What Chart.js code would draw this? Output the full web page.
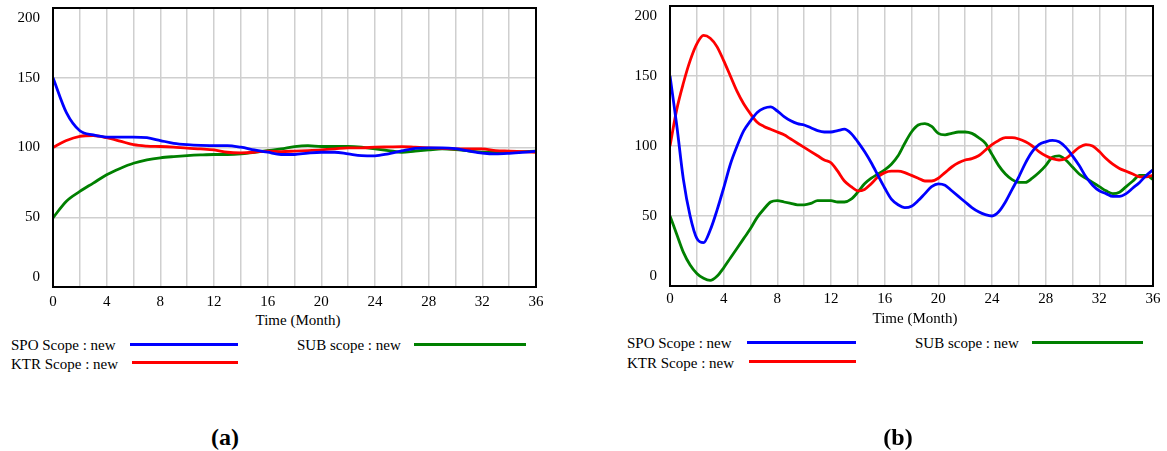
<!DOCTYPE html>
<html>
<head>
<meta charset="utf-8">
<script src="https://cdn.jsdelivr.net/npm/chart.js@4.4.0/dist/chart.umd.min.js"></script>
<style>
    body { margin: 0; background: #fff; }
    #page { position: relative; width: 1167px; height: 451px; overflow: hidden; font-family: 'Liberation Serif', 'Times New Roman', serif; color: #000; }
    canvas { position: absolute; top: 0; }
    .txt { position: absolute; font-size: 15px; line-height: 18px; white-space: nowrap; }
    .ctr { transform: translateX(-50%); }
    .key { position: absolute; height: 3px; }
    .panel { position: absolute; font-size: 24px; line-height: 28px; font-weight: bold; transform: translateX(-50%); }
</style>
</head>
<body>
<div id="page">
    <canvas id="chartA" width="580" height="310" style="left:0px"></canvas>
    <canvas id="chartB" width="567" height="310" style="left:600px"></canvas>

    <div class="txt ctr" style="left:298px; top:311px">Time (Month)</div>
    <div class="txt" style="left:11px; top:336px">SPO Scope : new</div>
    <div class="key" style="left:130px; width:108px; top:343px; background:#0000ff"></div>
    <div class="txt" style="left:11px; top:355px">KTR Scope : new</div>
    <div class="key" style="left:132px; width:106px; top:361px; background:#ff0000"></div>
    <div class="txt" style="left:297px; top:336px">SUB scope : new</div>
    <div class="key" style="left:414px; width:112px; top:343px; background:#008000"></div>
    <div class="panel" style="left:225px; top:423px">(a)</div>

    <div class="txt ctr" style="left:915px; top:309px">Time (Month)</div>
    <div class="txt" style="left:627px; top:334px">SPO Scope : new</div>
    <div class="key" style="left:747px; width:109px; top:341px; background:#0000ff"></div>
    <div class="txt" style="left:627px; top:354px">KTR Scope : new</div>
    <div class="key" style="left:749px; width:107px; top:360px; background:#ff0000"></div>
    <div class="txt" style="left:915px; top:334px">SUB scope : new</div>
    <div class="key" style="left:1032px; width:111px; top:341px; background:#008000"></div>
    <div class="panel" style="left:898px; top:423px">(b)</div>
</div>

<script>
// Scope simulation runs

// Panel (a): monthly points
const monthsA = [0, 1, 2, 3, 4, 5, 6, 7, 8, 9, 10, 11, 12, 13, 14, 15, 16, 17, 18,
    19, 20, 21, 22, 23, 24, 25, 26, 27, 28, 29, 30, 31, 32, 33, 34, 35, 36];
const spoA = [150, 125, 112, 109, 107.5, 107.5, 107.5, 107, 105, 103, 102, 101.5, 101.4,
    101.4, 100.2, 98.3, 96.6, 95, 95, 96, 96.6, 96.6, 95.4, 94.2, 94, 95.5, 97.5, 99.3,
    99.8, 99.8, 99.2, 97.5, 96, 95.4, 95.8, 96.5, 97.4];
const ktrA = [100, 105, 108, 108.6, 107, 104.6, 102, 101, 100.7, 100.2, 99.5, 99, 98.3,
    96.6, 96.2, 96.6, 97.4, 97.1, 97.4, 97.8, 98.3, 99, 99.8, 99.8, 100.2, 100.4, 100.6,
    100.2, 99.8, 99.4, 99, 99, 99, 97.8, 97.4, 97, 96.6];
const subA = [49.6, 61.5, 68.5, 74.5, 80.5, 85, 88.7, 91.1, 92.6, 93.5, 94.2, 94.7, 95,
    95, 95.4, 96.6, 97.8, 99, 100.7, 101.4, 100.7, 100.7, 100.7, 100.2, 99, 97.8, 96.6,
    97.5, 98.3, 99, 98.5, 97.5, 96.6, 96.6, 96.6, 97, 97.4];

// Panel (b): half-month points
const monthsB = [0, 0.5, 1, 1.5, 2, 2.5, 3, 3.5, 4, 4.5, 5, 5.5, 6, 6.5, 7, 7.5, 8, 8.5,
    9, 9.5, 10, 10.5, 11, 11.5, 12, 12.5, 13, 13.5, 14, 14.5, 15, 15.5, 16, 16.5, 17, 17.5,
    18, 18.5, 19, 19.5, 20, 20.5, 21, 21.5, 22, 22.5, 23, 23.5, 24, 24.5, 25, 25.5, 26, 26.5,
    27, 27.5, 28, 28.5, 29, 29.5, 30, 30.5, 31, 31.5, 32, 32.5, 33, 33.5, 34, 34.5, 35, 35.5, 36];
const spoB = [150, 115, 76, 50, 34, 31, 40, 54, 70, 87,
    100, 111, 118, 124, 127, 128, 125, 121, 118, 116,
    115, 113, 111, 110, 110, 111, 112, 109, 103, 96,
    88, 79, 70, 62, 58, 56, 57, 61, 66, 71,
    73, 72, 68, 64, 60, 56, 53, 51, 50, 53,
    60, 69, 78, 88, 96, 101, 103, 104, 103, 99,
    93, 86, 78, 72, 68, 66, 64, 64, 66, 70,
    74, 79, 83];
const ktrB = [100, 126, 145, 161, 173, 179, 177, 171, 161, 150,
    139, 130, 123, 117, 114, 112, 110, 108, 105, 102,
    99, 96, 93, 90, 88, 82, 75, 71, 68, 69,
    73, 78, 81, 82, 82, 81, 79, 77, 75, 75,
    77, 81, 85, 88, 90, 91, 93, 97, 101, 104,
    106, 106, 105, 103, 100, 96, 93, 91, 90, 91,
    95, 99, 101, 100, 96, 91, 87, 84, 82, 80,
    78, 78, 79];
const subB = [50, 37, 24, 15, 9, 5.5, 4, 7, 13, 20,
    27, 34, 41, 49, 55, 60, 61, 60, 59, 58,
    58, 59, 61, 61, 61, 60, 60, 62, 67, 73,
    77, 80, 83, 87, 93, 102, 110, 115, 116, 114,
    109, 108, 109, 110, 110, 109, 106, 102, 94, 86,
    80, 76, 74, 74, 77, 81, 86, 92, 93, 90,
    85, 80, 77, 74, 71, 68, 66, 67, 71, 75,
    79, 79, 76];

// Axis ticks
const xTickStep = 2;
const xLabelEvery = 4;
const yTickValues = [0, 50, 100, 150, 200];

const seriesNames = ['SPO Scope : new', 'KTR Scope : new', 'SUB scope : new'];
const seriesColors = ['#0000ff', '#ff0000', '#008000'];

const serif = '"Liberation Serif", "Times New Roman", serif';

// Black frame around plot area plus y labels (end labels pulled inside like Vensim)
const framePlugin = {
    id: 'frame',
    afterDraw(chart) {
        const ctx = chart.ctx;
        const area = chart.chartArea;
        const yScale = chart.scales.y;
        ctx.save();
        ctx.strokeStyle = '#000';
        ctx.lineWidth = 2;
        ctx.strokeRect(area.left, area.top, area.right - area.left, area.bottom - area.top);

        ctx.fillStyle = '#000';
        ctx.font = '15px ' + serif;
        ctx.textAlign = 'right';
        ctx.textBaseline = 'middle';
        yTickValues.forEach(v => {
            let y = yScale.getPixelForValue(v);
            if (v === yScale.max) y += 10;
            if (v === yScale.min) y -= 10;
            ctx.fillText(String(v), area.left - 13, y);
        });
        ctx.restore();
    }
};

function makeChart(id, months, series, box) {
    const datasets = series.map((values, i) => ({
        label: seriesNames[i],
        data: months.map((m, j) => ({ x: m, y: values[j] })),
        borderColor: seriesColors[i],
        borderWidth: 2.8,
        pointRadius: 0,
        fill: false,
        cubicInterpolationMode: 'monotone'
    }));

    return new Chart(document.getElementById(id), {
        type: 'line',
        data: { datasets: datasets },
        options: {
            responsive: false,
            animation: false,
            devicePixelRatio: 1,
            layout: { padding: { left: 0, top: box.top, right: box.right, bottom: 0 } },
            plugins: {
                legend: { display: false },
                tooltip: { enabled: false }
            },
            scales: {
                x: {
                    type: 'linear',
                    min: 0,
                    max: 36,
                    grid: { color: '#cfcfcf', lineWidth: 1.5, drawTicks: false },
                    border: { display: false },
                    ticks: {
                        stepSize: xTickStep,
                        autoSkip: false,
                        maxRotation: 0,
                        padding: box.xPad,
                        color: '#000',
                        font: { family: serif, size: 15 },
                        callback: v => (v % xLabelEvery === 0 ? v : '')
                    },
                    afterFit: s => { s.height = box.xHeight; }
                },
                y: {
                    min: 0,
                    max: 200,
                    grid: { color: '#cfcfcf', lineWidth: 1.5, drawTicks: false },
                    border: { display: false },
                    ticks: { stepSize: 50, display: false },
                    afterFit: s => { s.width = box.yWidth; }
                }
            }
        },
        plugins: [framePlugin]
    });
}

function drawCharts() {
    makeChart('chartA', monthsA, [spoA, ktrA, subA],
        { top: 8, right: 44, yWidth: 53, xHeight: 23, xPad: 6 });
    makeChart('chartB', monthsB, [spoB, ktrB, subB],
        { top: 6, right: 14, yWidth: 70, xHeight: 24, xPad: 4 });
}

// make sure the serif face is ready before canvas text is drawn
document.addEventListener('DOMContentLoaded', function() {
    document.fonts.load('15px "Liberation Serif"').then(drawCharts, drawCharts);
});
</script>
</body>
</html>
